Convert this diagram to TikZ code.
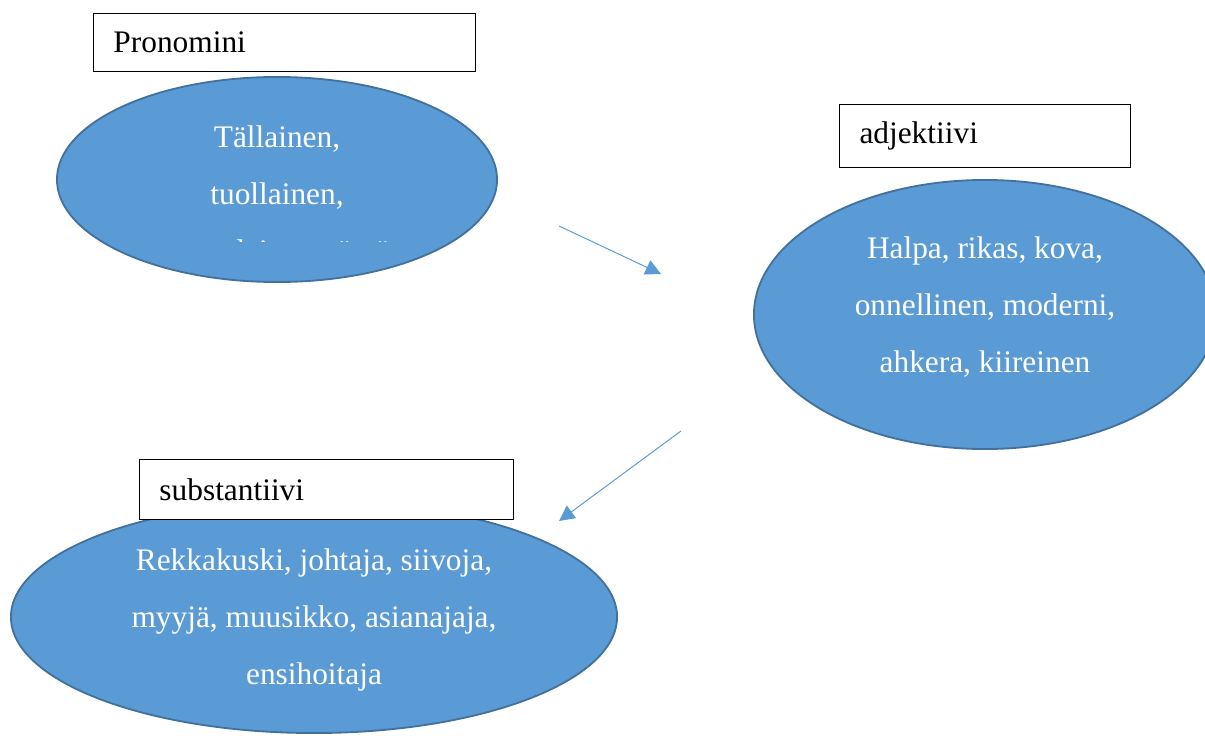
\documentclass[tikz,border=0pt]{standalone}
\usepackage{fontspec}
\setmainfont{Liberation Serif}
\usepackage{xcolor}
\usetikzlibrary{positioning, arrows.meta, shapes.geometric}

\definecolor{cloudfill}{HTML}{5B9BD5}
\definecolor{cloudline}{HTML}{41719C}

\begin{document}
\begin{tikzpicture}[
    x=0.025cm, y=-0.025cm,
    every node/.style={font=\fontsize{22.3}{40.5}\selectfont},
    wordbox/.style={draw, line width=0.7pt, fill=white, anchor=north west, inner xsep=0.5cm, inner ysep=0pt, align=left},
    wordcloud/.style={ellipse, draw=cloudline, line width=1.3pt, fill=cloudfill, inner sep=0pt},
    cloudtext/.style={text=white, align=center, anchor=base},
    link/.style={draw=cloudfill, line width=0.7pt, -{Triangle[length=11pt, width=11pt]}}
]
\useasboundingbox (0,0) rectangle (1205,736);

% pronomini
\node[wordbox, text width=8.55cm, minimum height=1.45cm] (pronbox) at (93,13) {Pronomini};
\node[wordcloud, minimum width=11cm, minimum height=5.125cm] (pron) at (277,179.5) {};
\begin{scope}
    \clip (57,77) rectangle (497,241.5);
    \node[cloudtext] (prontext) at (277,261) {Tällainen,\\ tuollainen,\\ samanlainen, tämä,};
\end{scope}

% adjektiivi
\node[wordbox, text width=6.275cm, minimum height=1.575cm] (adjbox) at (839,104) {adjektiivi};
\node[wordcloud, minimum width=11.55cm, minimum height=6.725cm] (adj) at (985,314.5) {};
\node[cloudtext] (adjtext) at (985,372) {Halpa, rikas, kova,\\ onnellinen, moderni,\\ ahkera, kiireinen};

% substantiivi
\node[wordcloud, minimum width=15.15cm, minimum height=5.8cm] (subst) at (314,617) {};
\node[wordbox, text width=8.35cm, minimum height=1.5cm] (substbox) at (139,459) {substantiivi};
\node[cloudtext] (substtext) at (314,684) {Rekkakuski, johtaja, siivoja,\\ myyjä, muusikko, asianajaja,\\ ensihoitaja};

% nuolet
\coordinate (pronout) at (559,226);
\coordinate (adjin) at (661,274);
\coordinate (adjout) at (681,431);
\coordinate (substin) at (559,521);
\draw[link] (pronout) -- (adjin);
\draw[link] (adjout) -- (substin);
\end{tikzpicture}
\end{document}
